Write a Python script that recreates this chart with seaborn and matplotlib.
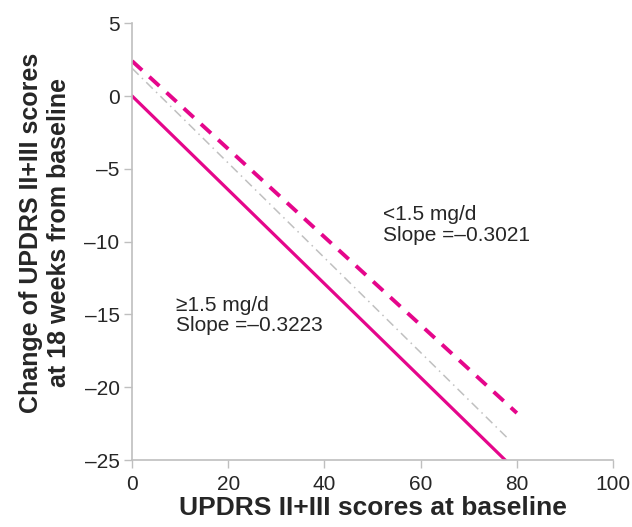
import pandas as pd
import numpy as np
import matplotlib
matplotlib.use('Agg')
import matplotlib.pyplot as plt
import seaborn as sns

sns.set_theme(style='white')
plt.rcParams['font.family'] = ['Liberation Sans', 'DejaVu Sans']

# line end points
x_low = [0, 80]            # <1.5 mg/d
y_low = [2.4, -21.77]
x_high = [0, 80]           # >=1.5 mg/d
y_high = [0, -25.78]
x_ref = [0, 78.4]          # grey dash-dot reference
y_ref = [1.9, -23.6]

x_ticks = [0, 20, 40, 60, 80, 100]
y_ticks = [5, 0, -5, -10, -15, -20, -25]
y_tick_labels = ['5', '0', '\u20135', '\u201310', '\u201315', '\u201320', '\u201325']

magenta = '#E5068B'
grey_line = '#C0C0C0'
axis_grey = '#BFBFBF'

fig = plt.figure(figsize=(6.32, 5.27), dpi=100)
ax = fig.add_axes([0.209, 0.127, 0.761, 0.829])

df_low = pd.DataFrame({'x': x_low, 'y': y_low})
df_high = pd.DataFrame({'x': x_high, 'y': y_high})
df_ref = pd.DataFrame({'x': x_ref, 'y': y_ref})

sns.lineplot(data=df_ref, x='x', y='y', ax=ax, color=grey_line, lw=1.1,
             linestyle=(0, (6, 3, 1, 3)))
sns.lineplot(data=df_low, x='x', y='y', ax=ax, color=magenta, lw=2.8,
             linestyle=(0, (3.5, 2.5)))
sns.lineplot(data=df_high, x='x', y='y', ax=ax, color=magenta, lw=2.3)

ax.set_xlim(0, 100)
ax.set_ylim(-25, 5)
ax.set_xticks(x_ticks)
ax.set_yticks(y_ticks)
ax.set_yticklabels(y_tick_labels)
ax.tick_params(axis='both', labelsize=15, length=6, width=1, color=axis_grey,
               direction='out', bottom=True, left=True)
ax.tick_params(axis='x', pad=5)
ax.tick_params(axis='y', pad=3)

sns.despine(ax=ax)
for s in ['left', 'bottom']:
    ax.spines[s].set_color(axis_grey)
    ax.spines[s].set_linewidth(1.2)

ax.set_xlabel('UPDRS II+III scores at baseline', fontsize=19, fontweight='bold', labelpad=1)
ax.set_ylabel('Change of UPDRS II+III scores\nat 18 weeks from baseline', fontsize=18,
              fontweight='bold', linespacing=1.2)
ax.yaxis.set_label_coords(-0.128, 0.52)

ax.text(52.2, -7.5, '<1.5 mg/d\nSlope =\u20130.3021', fontsize=15, va='top', ha='left',
        linespacing=1.1)
ax.text(9.1, -13.7, '\u22651.5 mg/d\nSlope =\u20130.3223', fontsize=15, va='top', ha='left',
        linespacing=1.1)

fig.savefig('out.png', dpi=100)
